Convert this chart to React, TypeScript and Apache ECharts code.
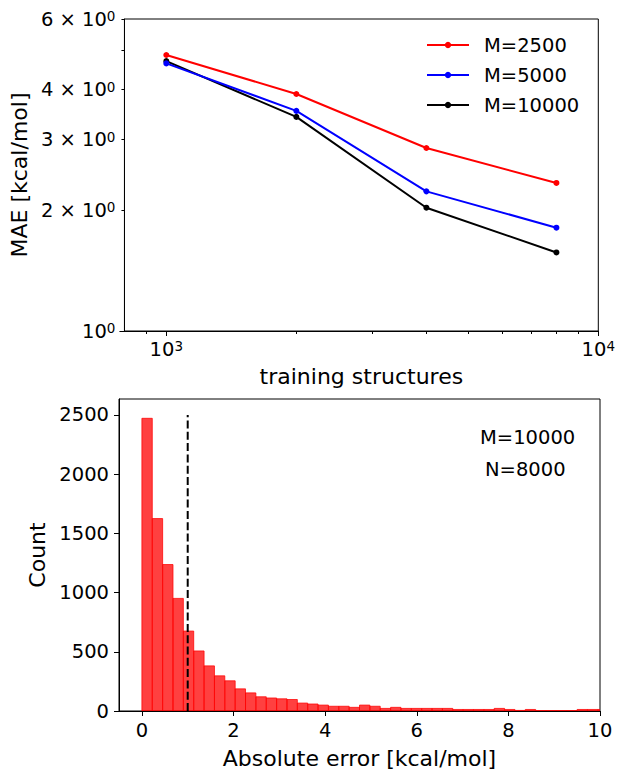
import React, { useEffect, useRef } from "react";
import * as echarts from "echarts";

// ---- top panel data ----
const trainSizes = [1000, 2000, 4000, 8000];
const maeM2500 = [4.88, 3.9, 2.86, 2.34];
const maeM5000 = [4.65, 3.54, 2.23, 1.81];
const maeM10000 = [4.71, 3.42, 2.03, 1.57];
const seriesNames = ["M=2500", "M=5000", "M=10000"];
const seriesColors = ["#ff0000", "#0000ff", "#000000"];

const logXMajor = [1000, 10000];
const logXMinor = [900, 2000, 3000, 4000, 5000, 6000, 7000, 8000, 9000];
const logYMajor = [1];
const logYMinor = [2, 3, 4, 5, 6];
const logYLabels = [1, 2, 3, 4, 6];

// ---- bottom panel data ----
const binWidth = 0.2262;
const histCounts = [
  2472, 1625, 1237, 951, 675, 507, 381, 297, 255, 187,
  153, 120, 110, 103, 97, 67, 59, 50, 40, 40,
  31, 50, 40, 22, 31, 22, 22, 22, 22, 22,
  13, 13, 13, 13, 22, 13, 5, 13, 4, 4,
  4, 4, 13, 13, 13,
];
const xTicksBottom = [0, 2, 4, 6, 8, 10];
const yTicksBottom = [0, 500, 1000, 1500, 2000, 2500];
const thresholdX = 1;
const thresholdTop = 2500;
const annotations = ["M=10000", "N=8000"];

const FONT = "DejaVu Sans";

export default function App() {
  const ref = useRef<HTMLDivElement>(null);
  useEffect(() => {
    const chart = echarts.init(ref.current!, undefined, { renderer: "svg" });
    const supRich = {
      b: { fontSize: 19.5, fontFamily: FONT, color: "#000", lineHeight: 20, verticalAlign: "bottom" },
      s: { fontSize: 13.5, fontFamily: FONT, color: "#000", lineHeight: 14, verticalAlign: "top", padding: [0, 0, 8, 0] },
    };
    const axisLineStyle = { show: true, onZero: false, lineStyle: { color: "#000", width: 1 } };
    const series: any[] = [maeM2500, maeM5000, maeM10000].map((vals, i) => ({
      name: seriesNames[i],
      type: "line",
      xAxisIndex: 0,
      yAxisIndex: 0,
      data: trainSizes.map((x, j) => [x, vals[j]]),
      symbol: "circle",
      symbolSize: 6,
      itemStyle: { color: seriesColors[i] },
      lineStyle: { color: seriesColors[i], width: 2 },
      z: 3 - i + 2,
    }));
    series.push({
      type: "custom",
      xAxisIndex: 2,
      yAxisIndex: 2,
      clip: true,
      data: histCounts.map((c, i) => [i * binWidth, (i + 1) * binWidth, c]),
      encode: { x: [0, 1], y: 2 },
      renderItem: (params: any, api: any) => {
        const p0 = api.coord([api.value(0), api.value(2)]);
        const p1 = api.coord([api.value(1), 0]);
        return {
          type: "rect",
          shape: { x: p0[0], y: p0[1], width: p1[0] - p0[0], height: p1[1] - p0[1] },
          style: { fill: "rgba(255,0,0,0.75)", stroke: "rgba(255,0,0,0.75)", lineWidth: 1 },
        };
      },
    });
    series.push({
      type: "line",
      xAxisIndex: 2,
      yAxisIndex: 2,
      data: [[thresholdX, 0], [thresholdX, thresholdTop]],
      symbol: "none",
      lineStyle: { color: "#000", width: 2, type: [8, 3.3] },
      z: 5,
    });

    chart.setOption({
      animation: false,
      backgroundColor: "#fff",
      textStyle: { fontFamily: FONT },
      grid: [
        { left: 119, right: 18, top: 19, height: 312, show: true, borderColor: "#000", borderWidth: 1 },
        { left: 119, right: 18, top: 399, height: 313, show: true, borderColor: "#000", borderWidth: 1 },
      ],
      legend: {
        data: seriesNames,
        orient: "vertical",
        left: 421,
        top: 30,
        itemWidth: 42,
        itemHeight: 8,
        itemGap: 10,
        formatter: (n: string) => `{t|${n}}`,
        textStyle: {
          rich: { t: { fontSize: 19.5, fontFamily: FONT, color: "#000", padding: [0, 0, 0, 10] } },
        },
      },
      xAxis: [
        {
          type: "log", logBase: 10, gridIndex: 0, min: 800, max: 10000, position: "bottom",
          axisLine: axisLineStyle,
          axisTick: { show: true, length: 5, customValues: logXMajor, lineStyle: { color: "#000" } },
          axisLabel: {
            customValues: logXMajor, margin: 8,
            formatter: (v: number) => `{b|10}{s|${Math.round(Math.log10(v))}}`,
            rich: supRich,
          },
          splitLine: { show: false },
          minorTick: { show: false },
          name: "training structures", nameLocation: "middle", nameGap: 34,
          nameTextStyle: { fontSize: 22, fontFamily: FONT, color: "#000" },
        },
        {
          type: "log", logBase: 10, gridIndex: 0, min: 800, max: 10000, position: "bottom", offset: 0,
          axisLine: { show: false, onZero: false },
          axisTick: { show: true, length: 3, customValues: logXMinor, lineStyle: { color: "#000" } },
          axisLabel: { show: false },
          splitLine: { show: false },
        },
        {
          type: "value", gridIndex: 1, min: -0.5, max: 10, position: "bottom",
          axisLine: axisLineStyle,
          axisTick: { show: true, length: 5, customValues: xTicksBottom, lineStyle: { color: "#000" } },
          axisLabel: {
            customValues: xTicksBottom, margin: 9, fontSize: 19.5, color: "#000", fontFamily: FONT,
            formatter: (v: number) => String(v),
          },
          splitLine: { show: false },
          name: "Absolute error [kcal/mol]", nameLocation: "middle", nameGap: 36,
          nameTextStyle: { fontSize: 22, fontFamily: FONT, color: "#000" },
        },
      ],
      yAxis: [
        {
          type: "log", logBase: 10, gridIndex: 0, min: 1, max: 6, position: "left",
          axisLine: axisLineStyle,
          axisTick: { show: true, length: 5, customValues: logYMajor, lineStyle: { color: "#000" } },
          axisLabel: {
            customValues: logYLabels, margin: 9,
            formatter: (v: number) => {
              const r = Math.round(v);
              return r === 1 ? `{b|10}{s|0}` : `{b|${r} × 10}{s|0}`;
            },
            rich: supRich,
          },
          splitLine: { show: false },
          name: "MAE [kcal/mol]", nameLocation: "middle", nameGap: 84,
          nameTextStyle: { fontSize: 22, fontFamily: FONT, color: "#000" },
        },
        {
          type: "log", logBase: 10, gridIndex: 0, min: 1, max: 6, position: "left", offset: 0,
          axisLine: { show: false, onZero: false },
          axisTick: { show: true, length: 3, customValues: logYMinor, lineStyle: { color: "#000" } },
          axisLabel: { show: false },
          splitLine: { show: false },
        },
        {
          type: "value", gridIndex: 1, min: 0, max: 2635, position: "left",
          axisLine: axisLineStyle,
          axisTick: { show: true, length: 5, customValues: yTicksBottom, lineStyle: { color: "#000" } },
          axisLabel: {
            customValues: yTicksBottom, margin: 10, fontSize: 19.5, color: "#000", fontFamily: FONT,
            formatter: (v: number) => String(v),
          },
          splitLine: { show: false },
          name: "Count", nameLocation: "middle", nameGap: 64,
          nameTextStyle: { fontSize: 22, fontFamily: FONT, color: "#000" },
        },
      ],
      graphic: [
        {
          type: "text", left: 480, top: 427,
          style: { text: annotations[0], fontSize: 19.5, fontFamily: FONT, fill: "#000" },
        },
        {
          type: "text", left: 485, top: 459,
          style: { text: annotations[1], fontSize: 19.5, fontFamily: FONT, fill: "#000" },
        },
      ],
      series,
    });
    return () => chart.dispose();
  }, []);
  return (
    <div
      ref={ref}
      style={{ position: "fixed", left: 0, top: 0, width: 618, height: 770, background: "#fff" }}
    />
  );
}
